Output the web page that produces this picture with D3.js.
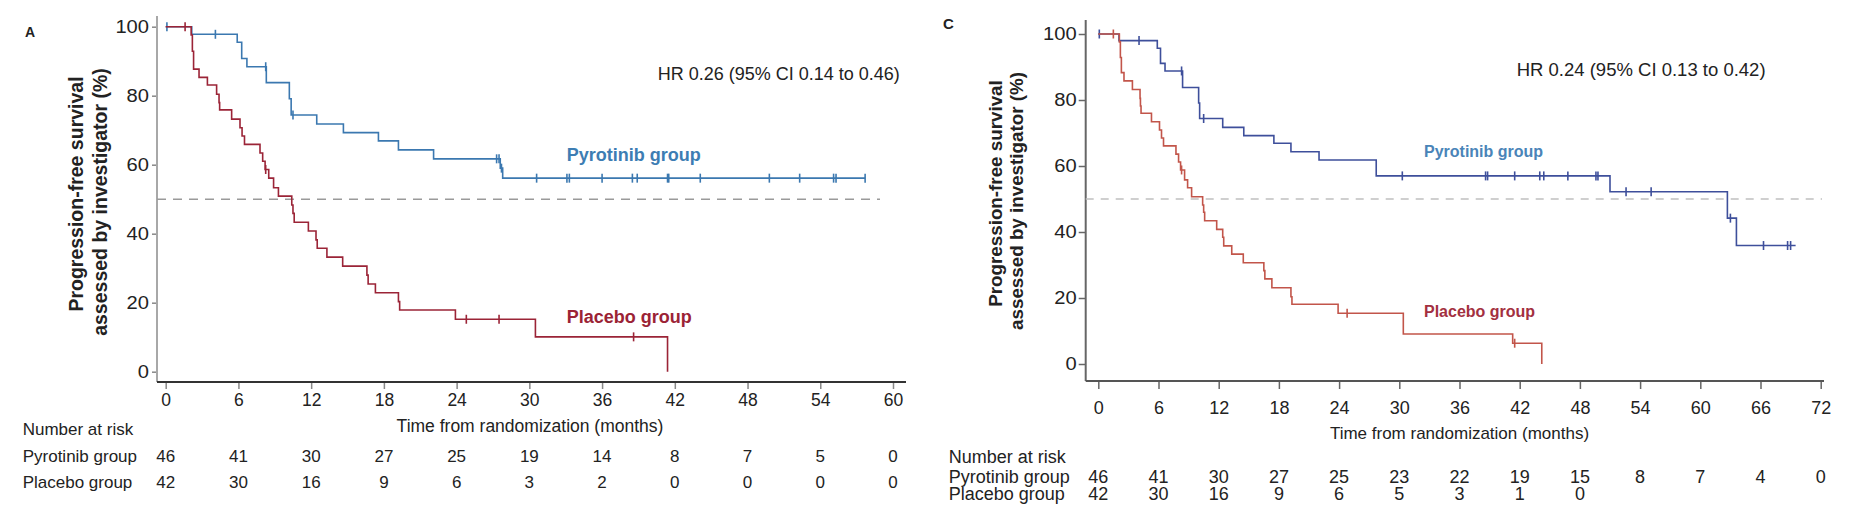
<!DOCTYPE html>
<html>
<head>
<meta charset="utf-8">
<script src="https://cdn.jsdelivr.net/npm/d3@7"></script>
<style>
  body { margin: 0; background: #fff; }
  svg text { font-family: "Liberation Sans", Arial, sans-serif; fill: #222; }
</style>
</head>
<body>
<svg id="chart" width="1857" height="522"></svg>
<script>
// ---- data ----
var survTicks = [0, 20, 40, 60, 80, 100];
var monthTicksA = [0, 6, 12, 18, 24, 30, 36, 42, 48, 54, 60];
var monthTicksC = [0, 6, 12, 18, 24, 30, 36, 42, 48, 54, 60, 66, 72];

// panel A, pyrotinib
var pyroA_t = [0, 2.15, 5.9, 6.27, 6.7, 8.3, 10.2, 10.35, 12.46, 14.66, 17.55, 19.2, 22.1, 27.6, 27.8];
var pyroA_s = [100, 97.8, 95.5, 90.8, 88.4, 83.8, 79.1, 74.4, 71.8, 69.3, 66.9, 64.3, 61.7, 59.0, 56.1];
var pyroA_cens = [0.1, 4.1, 8.25, 10.5, 27.3, 27.5, 27.7, 30.6, 33.1, 33.3, 36.0, 38.5, 38.9, 41.4, 41.5, 44.1, 49.8, 52.3, 55.1, 55.3, 57.7];
// panel A, placebo
var placA_t = [0, 2.1, 2.2, 2.3, 2.75, 3.44, 4.2, 4.4, 4.45, 5.44, 6.13, 6.3, 6.5, 7.78, 8.0, 8.2, 8.5, 8.9, 9.3, 10.4,
               10.5, 10.6, 11.77, 12.4, 12.5, 13.3, 14.6, 16.6, 16.7, 17.3, 19.2, 19.3, 23.9, 30.5, 41.4];
var placA_s = [100, 97.6, 92.9, 87.7, 85.3, 83.1, 80.4, 78.0, 75.9, 73.2, 70.7, 68.3, 65.9, 63.4, 61.0, 58.6, 56.1, 53.3, 50.9, 48.3,
               45.9, 43.3, 40.8, 38.2, 35.8, 33.2, 30.6, 28.0, 25.4, 22.9, 20.3, 17.9, 15.2, 10.1, 0];
var placA_cens = [1.6, 8.25, 24.8, 27.5, 38.6];

// panel C, pyrotinib
var pyroC_t = [0, 2.06, 5.88, 6.2, 6.65, 8.4, 10.0, 10.1, 12.4, 14.5, 17.5, 19.2, 22.0, 27.7, 51.0, 62.7, 63.6];
var pyroC_s = [100, 98.0, 95.7, 91.1, 88.8, 83.8, 79.1, 74.4, 71.7, 69.2, 66.9, 64.3, 61.8, 57.0, 52.2, 44.2, 35.9];
var pyroC_cens = [0.1, 4.06, 8.3, 10.5, 30.3, 38.6, 38.8, 41.5, 44.0, 44.4, 46.8, 49.6, 49.8, 52.6, 55.1, 63.0, 66.3, 68.7, 69.0];
var pyroC_end = 69.5;
// panel C, placebo
var placC_t = [0, 2.1, 2.2, 2.3, 2.56, 3.4, 4.16, 4.2, 4.26, 5.3, 6.1, 6.3, 6.5, 7.74, 8.0, 8.2, 8.6, 8.9, 9.3, 10.4,
               10.5, 10.6, 11.8, 12.4, 12.5, 13.3, 14.45, 16.5, 16.6, 17.3, 19.2, 19.3, 23.9, 30.4, 41.3, 44.2];
var placC_s = [100, 97.6, 92.9, 88.3, 85.8, 83.2, 80.5, 78.2, 76.0, 73.4, 70.9, 68.5, 66.1, 63.6, 61.2, 58.8, 55.8, 53.4, 50.7, 48.2,
               46.0, 43.4, 40.8, 38.4, 35.8, 33.3, 30.7, 28.3, 25.8, 23.1, 20.4, 18.1, 15.4, 9.1, 6.3, 0];
var placC_cens = [1.5, 8.3, 24.8, 41.5];

// number at risk
var riskA_pyro = [46, 41, 30, 27, 25, 19, 14, 8, 7, 5, 0];
var riskA_plac = [42, 30, 16, 9, 6, 3, 2, 0, 0, 0, 0];
var riskC_pyro = [46, 41, 30, 27, 25, 23, 22, 19, 15, 8, 7, 4, 0];
var riskC_plac = [42, 30, 16, 9, 6, 5, 3, 1, 0];

var svg = d3.select("#chart");

function survAt(times, surv, t) {
  var s = surv[0];
  for (var i = 0; i < times.length; i++) if (times[i] <= t) s = surv[i];
  return s;
}

function drawPanel(p) {
  var g = svg.append("g");
  var x = d3.scaleLinear().domain([0, p.xMax]).range(p.xRange);
  var y = d3.scaleLinear().domain([0, 100]).range(p.yRange);

  // panel letter
  g.append("text")
    .attr("x", p.letterPos[0]).attr("y", p.letterPos[1])
    .style("font-weight", "bold").style("font-size", p.letterSize + "px")
    .text(p.letter);

  // y axis
  var ya = g.append("g")
    .attr("transform", `translate(${p.yAxisX},0)`)
    .call(d3.axisLeft(y).tickValues(survTicks).tickSize(p.yTickSize).tickPadding(p.yTickPad));
  ya.select(".domain").remove();
  ya.selectAll(".tick line").attr("stroke", p.tickColor).attr("stroke-width", 1.5);
  ya.selectAll("text").style("font-size", "18px")
    .attr("textLength", d => String(d).length * 11.2).attr("lengthAdjust", "spacingAndGlyphs");
  g.append("line")
    .attr("x1", p.yAxisX).attr("x2", p.yAxisX)
    .attr("y1", p.yAxisTop).attr("y2", p.xAxisY)
    .attr("stroke", p.yAxisColor).attr("stroke-width", 2);

  // x axis
  var xa = g.append("g")
    .attr("transform", `translate(0,${p.xAxisY})`)
    .call(d3.axisBottom(x).tickValues(p.monthTicks).tickSize(p.xTickSize).tickPadding(p.xTickPad));
  xa.select(".domain").remove();
  xa.selectAll(".tick line").attr("stroke", p.tickColor).attr("stroke-width", 1.5);
  xa.selectAll("text").style("font-size", p.xTickFont + "px");
  g.append("line")
    .attr("x1", p.yAxisX).attr("x2", p.xAxisEnd)
    .attr("y1", p.xAxisY).attr("y2", p.xAxisY)
    .attr("stroke", p.xAxisColor).attr("stroke-width", 2);

  // axis titles
  g.append("text")
    .attr("x", p.xTitle[0]).attr("y", p.xTitle[1])
    .attr("text-anchor", "middle").style("font-size", p.xTitleFont + "px")
    .text("Time from randomization (months)");
  ["Progression-free survival", "assessed by investigator (%)"].forEach(function(t, i) {
    g.append("text")
      .attr("transform", `translate(${p.yTitle[i][0]},${p.yTitle[i][1]}) rotate(-90)`)
      .attr("text-anchor", "middle")
      .style("font-weight", "bold").style("font-size", p.yTitleFont + "px")
      .text(t);
  });

  // median line
  g.append("line")
    .attr("x1", p.yAxisX).attr("x2", p.dashEnd)
    .attr("y1", y(50)).attr("y2", y(50))
    .attr("stroke", p.dashColor).attr("stroke-width", 1.6)
    .attr("stroke-dasharray", p.dashArray);

  // curves
  var line = d3.line().x(d => x(d[0])).y(d => y(d[1])).curve(d3.curveStepAfter);
  p.series.forEach(function(s) {
    var pts = s.t.map((t, i) => [t, s.s[i]]);
    var end = d3.max([d3.max(s.t), d3.max(s.cens), s.end || 0]);
    pts.push([end, s.s[s.s.length - 1]]);
    g.append("path")
      .datum(pts)
      .attr("d", line)
      .attr("fill", "none")
      .attr("stroke", s.color)
      .attr("stroke-width", 1.6);
    g.selectAll(null)
      .data(s.cens)
      .enter()
      .append("line")
      .attr("x1", d => x(d)).attr("x2", d => x(d))
      .attr("y1", d => y(survAt(s.t, s.s, d)) - 4.5)
      .attr("y2", d => y(survAt(s.t, s.s, d)) + 4.5)
      .attr("stroke", s.color).attr("stroke-width", 1.6);
  });

  // annotations
  g.append("text")
    .attr("x", p.hrPos[0]).attr("y", p.hrPos[1])
    .style("font-size", p.hrFont + "px")
    .text(p.hrText);
  p.labels.forEach(function(l) {
    g.append("text")
      .attr("x", l.pos[0]).attr("y", l.pos[1])
      .style("font-weight", "bold").style("font-size", p.labelFont + "px")
      .style("fill", l.color)
      .text(l.text);
  });

  // number at risk table
  g.append("text")
    .attr("x", p.riskX).attr("y", p.riskY[0])
    .style("font-size", p.riskFont + "px")
    .text("Number at risk");
  p.risk.forEach(function(r, i) {
    g.append("text")
      .attr("x", p.riskX).attr("y", p.riskY[i + 1])
      .style("font-size", p.riskFont + "px")
      .text(r.name);
    g.selectAll(null)
      .data(r.vals)
      .enter()
      .append("text")
      .attr("x", (d, j) => x(p.monthTicks[j]))
      .attr("y", p.riskY[i + 1])
      .attr("text-anchor", "middle")
      .style("font-size", p.riskFont + "px")
      .text(d => d);
  });
}

drawPanel({
  letter: "A", letterPos: [25, 36.7], letterSize: 14,
  xMax: 60, xRange: [165.7, 893], yRange: [371.7, 26.7],
  monthTicks: monthTicksA,
  yAxisX: 157, yAxisTop: 16, xAxisY: 382, xAxisEnd: 906,
  yAxisColor: "#a8a8a8", xAxisColor: "#333", tickColor: "#888",
  yTickSize: 5, yTickPad: 3, xTickSize: 7, xTickPad: 5, xTickFont: 17.5,
  xTitle: [530, 431.7], xTitleFont: 17.5,
  yTitle: [[83.3, 194], [106.7, 202]], yTitleFont: 19.5,
  dashEnd: 880, dashColor: "#9a9a9a", dashArray: "9,7",
  series: [
    { t: pyroA_t, s: pyroA_s, cens: pyroA_cens, color: "#3b78b0" },
    { t: placA_t, s: placA_s, cens: placA_cens, color: "#9b2437" }
  ],
  hrPos: [657.7, 80], hrFont: 18, hrText: "HR 0.26 (95% CI 0.14 to 0.46)",
  labelFont: 18,
  labels: [
    { text: "Pyrotinib group", pos: [566.7, 161], color: "#3d7db3" },
    { text: "Placebo group", pos: [566.7, 323.3], color: "#9b2335" }
  ],
  riskX: 22.7, riskY: [435, 461.7, 488.3], riskFont: 17,
  risk: [
    { name: "Pyrotinib group", vals: riskA_pyro },
    { name: "Placebo group", vals: riskA_plac }
  ]
});

drawPanel({
  letter: "C", letterPos: [943, 29], letterSize: 15,
  xMax: 72, xRange: [1098.3, 1820.7], yRange: [364, 34],
  monthTicks: monthTicksC,
  yAxisX: 1085.7, yAxisTop: 20, xAxisY: 381, xAxisEnd: 1824,
  yAxisColor: "#666", xAxisColor: "#555", tickColor: "#666",
  yTickSize: 7, yTickPad: 2, xTickSize: 8, xTickPad: 12, xTickFont: 18,
  xTitle: [1459.5, 439.3], xTitleFont: 17,
  yTitle: [[1001.7, 193.5], [1023.3, 201]], yTitleFont: 18.8,
  dashEnd: 1822, dashColor: "#c0c0c0", dashArray: "8,7",
  series: [
    { t: pyroC_t, s: pyroC_s, cens: pyroC_cens, end: pyroC_end, color: "#3e4f9b" },
    { t: placC_t, s: placC_s, cens: placC_cens, color: "#c2554a" }
  ],
  hrPos: [1516.7, 76], hrFont: 18.5, hrText: "HR 0.24 (95% CI 0.13 to 0.42)",
  labelFont: 16,
  labels: [
    { text: "Pyrotinib group", pos: [1424, 156.7], color: "#4a84b8" },
    { text: "Placebo group", pos: [1424, 317.3], color: "#a33040" }
  ],
  riskX: 948.8, riskY: [463.3, 483.3, 500], riskFont: 18,
  risk: [
    { name: "Pyrotinib group", vals: riskC_pyro },
    { name: "Placebo group", vals: riskC_plac }
  ]
});
</script>
</body>
</html>
